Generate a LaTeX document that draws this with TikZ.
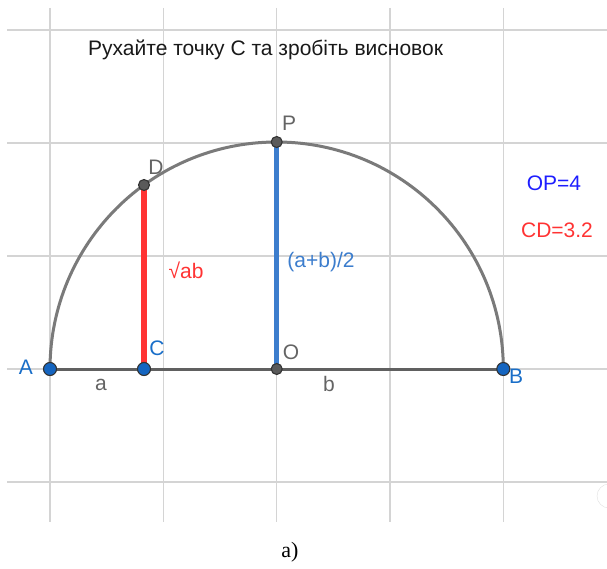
\documentclass[tikz,border=0pt]{standalone}
\usepackage{fontspec}
\setmainfont{Liberation Sans}
\newfontfamily\serifa{Liberation Serif}
\definecolor{gridc}{RGB}{212,212,212}
\definecolor{ptblue}{RGB}{21,101,192}
\definecolor{lblblue}{RGB}{25,110,200}
\definecolor{segblue}{RGB}{60,125,205}
\definecolor{redc}{RGB}{255,51,51}
\definecolor{arcc}{RGB}{122,122,122}
\definecolor{segc}{RGB}{96,96,96}
\definecolor{ptgray}{RGB}{90,90,90}
\definecolor{txtgray}{RGB}{100,100,100}
\definecolor{opblue}{RGB}{30,30,255}
\tikzset{
  gridline/.style={draw=gridc, line width=1.5pt},
  bluept/.style={circle, fill=ptblue, draw=black!80, line width=1.1pt, inner sep=0pt, minimum size=13pt},
  graypt/.style={circle, fill=ptgray, draw=black!80, line width=1.1pt, inner sep=0pt, minimum size=11pt},
  lbl/.style={font=\fontsize{21}{23}\selectfont, inner sep=0pt},
}
\begin{document}
\begin{tikzpicture}[x=1pt, y=-1pt]
\useasboundingbox (0,0) rectangle (607,569);
% grid
\foreach \gx in {50,163.3,276.7,390,503.3}
  \draw[gridline] (\gx,8) -- (\gx,522);
\foreach \gy in {30,143,256,369,482}
  \draw[gridline] (7,\gy) -- (607,\gy);
% title
\node[lbl, anchor=west, text=black!90] (title) at (88,50) {Рухайте точку С та зробіть висновок};
% coordinates
\coordinate (A) at (50,369);
\coordinate (C) at (144,369);
\coordinate (O) at (276.7,369);
\coordinate (B) at (503.3,369);
\coordinate (P) at (276.7,142);
\coordinate (D) at (144,185);
% semicircle
\draw[arcc, line width=3pt] (B) arc[start angle=0, end angle=-180, x radius=226.65, y radius=227];
% AB segment
\draw[segc, line width=3pt] (A) -- (B);
% CD and OP
\draw[redc, line width=5.5pt] (C) -- (D);
\draw[segblue, line width=5.5pt] (O) -- (P);
% points
\node[bluept] (nA) at (A) {};
\node[bluept] (nC) at (C) {};
\node[bluept] (nB) at (B) {};
\node[graypt] (nO) at (O) {};
\node[graypt] (nP) at (P) {};
\node[graypt] (nD) at (D) {};
% labels
\node[lbl, text=lblblue] (lA) at (26,367) {A};
\node[lbl, text=lblblue] (lC) at (157,348) {C};
\node[lbl, text=txtgray] (lO) at (291,352) {O};
\node[lbl, text=lblblue] (lB) at (516,376) {B};
\node[lbl, text=txtgray] (lP) at (289,123) {P};
\node[lbl, text=txtgray] (lD) at (156,167) {D};
\node[lbl, text=txtgray] (la) at (101,385) {a};
\node[lbl, text=txtgray] (lb) at (329,384) {b};
\node[lbl, text=redc] (lsq) at (186,270) {√ab};
\node[lbl, text=segblue] (lhalf) at (321,262) {(a+b)/2};
\node[lbl, text=opblue] (lop) at (554,183) {OP=4};
\node[lbl, text=redc] (lcd) at (557,230) {CD=3.2};
% icon
\node[circle, draw=black!12, fill=white, minimum size=24pt, inner sep=0pt] (icon) at (609,496) {};
% caption
\node[font=\serifa\fontsize{22}{24}\selectfont, inner sep=0pt] (cap) at (290,552) {a)};
\end{tikzpicture}
\end{document}
